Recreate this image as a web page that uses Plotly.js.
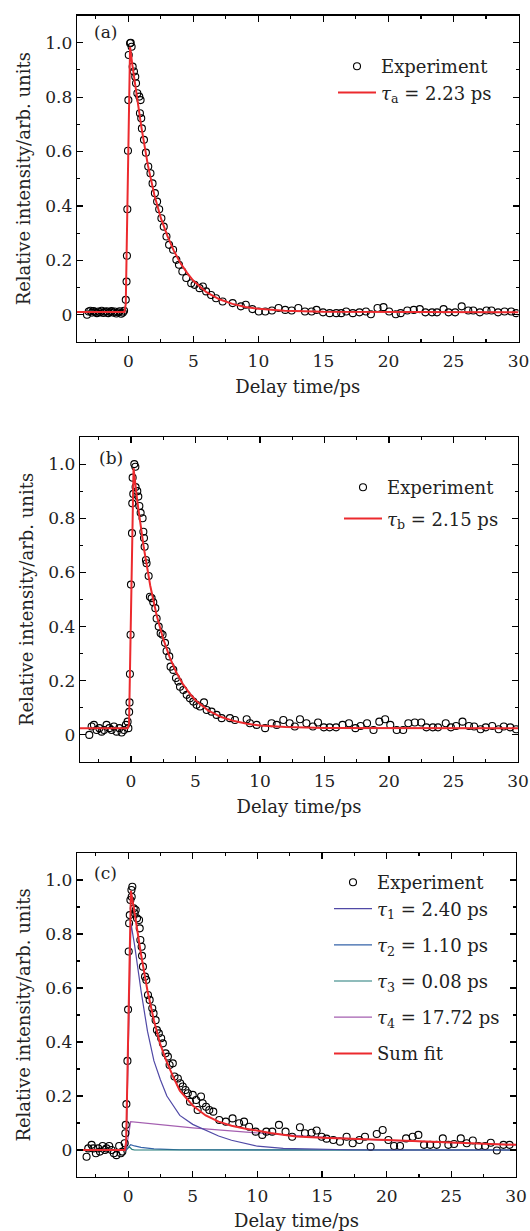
<!DOCTYPE html>
<html>
<head>
<meta charset="utf-8">
<script src="https://cdn.plot.ly/plotly-3.0.1.min.js"></script>
<style>html,body{margin:0;padding:0;background:#fff;}#chart{width:530px;height:1231px;}</style>
</head>
<body>
<div id="chart"></div>
<script>
// ---------- Tick labels ----------
const xTickVals = [0, 5, 10, 15, 20, 25, 30];
const xTickText = ['0', '5', '10', '15', '20', '25', '30'];
const yTickVals = [0, 0.2, 0.4, 0.6, 0.8, 1.0];
const yTickText = ['0', '0.2', '0.4', '0.6', '0.8', '1.0'];
const xRange = [-3.95, 30];
const yRange = [-0.1, 1.1];

// ---------- Panel (a) ----------
const expAx = [-3.18,-3.05,-2.92,-2.8,-2.67,-2.55,-2.42,-2.3,-2.17,-2.05,-1.92,-1.8,-1.67,-1.55,-1.42,-1.3,-1.17,-1.05,-0.92,-0.8,-0.67,-0.55,-0.42,-0.33,
  -0.2,-0.14,-0.11,-0.08,-0.03,0,0.03,0.13,0.18,0.25,0.33,0.43,0.53,0.59,0.69,0.84,0.89,0.94,0.99,1.04,
  1.2,1.35,1.53,1.7,1.86,2.04,2.21,2.37,2.54,2.72,2.93,3.13,3.44,3.69,3.89,4.15,4.45,4.83,5.09,5.47,5.73,5.98,6.36,6.74,7.25,8.02,8.65,9.03,9.54,10.03,
  10.53,11.04,11.55,12.06,12.56,13.07,13.58,14.09,14.47,14.97,15.48,15.99,16.37,16.75,17.26,17.77,18.27,18.65,19.16,19.62,20.05,20.56,20.94,21.45,21.95,22.41,22.84,23.35,23.73,24.24,24.62,25.13,25.63,26.14,26.52,27.03,27.54,27.92,28.43,28.93,29.44,29.82];
const expAy = [0.0,0.012,0.015,0.008,0.014,0.01,0.006,0.012,0.009,0.015,0.007,0.011,0.013,0.006,0.01,0.014,0.008,0.012,0.005,0.009,0.013,0.004,0.008,0.015,
  0.055,0.122,0.217,0.388,0.603,0.789,0.955,0.998,1.0,0.985,0.912,0.894,0.875,0.851,0.814,0.802,0.741,0.789,0.722,0.685,
  0.643,0.596,0.545,0.52,0.483,0.447,0.416,0.388,0.355,0.324,0.288,0.257,0.239,0.202,0.184,0.159,0.135,0.116,0.11,0.098,0.104,0.086,0.073,0.061,0.049,0.043,0.031,0.037,0.021,0.012,
  0.012,0.016,0.025,0.018,0.016,0.025,0.012,0.012,0.018,0.009,0.006,0.006,0.006,0.012,0.006,0.009,0.012,0.002,0.025,0.028,0.012,0.002,0.006,0.016,0.018,0.021,0.009,0.009,0.009,0.021,0.009,0.009,0.031,0.016,0.016,0.009,0.016,0.016,0.009,0.012,0.012,0.006];
const fitAx = [-3.95,-0.3,-0.2,0.13,0.3,0.5,0.75,1.0,1.5,2.0,2.5,3.0,3.5,4.0,4.5,5.0,6.0,7.0,8.0,9.0,10.0,12.0,15.0,20.0,30.0];
const fitAy = [0.01,0.01,0.04,0.985,0.92,0.85,0.77,0.69,0.55,0.44,0.355,0.29,0.235,0.19,0.155,0.125,0.083,0.057,0.04,0.029,0.022,0.015,0.011,0.01,0.009];

// ---------- Panel (b) ----------
const expBx = [-3.23,-3.05,-2.87,-2.66,-2.45,-2.27,-2.09,-1.89,-1.68,-1.5,-1.32,-1.11,-0.9,-0.72,-0.54,-0.39,-0.26,
  -0.2,-0.14,-0.11,-0.08,-0.03,0,0.08,0.1,0.13,0.26,0.34,0.18,0.36,0.49,0.57,0.65,0.75,0.9,0.96,1.01,1.06,1.16,1.21,1.37,1.47,1.6,1.73,1.89,1.99,2.15,2.3,2.45,2.64,2.76,2.97,3.07,3.28,3.49,3.67,3.8,4.06,4.32,4.57,4.83,5.09,5.35,5.66,5.87,6.25,6.64,7.03,7.67,8.06,8.97,
  9.22,9.74,10.4,10.9,11.3,11.81,12.3,12.7,13.1,13.6,14.1,14.5,14.95,15.4,15.9,16.4,16.9,17.4,17.8,18.3,18.8,19.25,19.7,20.1,20.6,21.1,21.5,22.0,22.5,22.9,23.4,23.8,24.4,24.8,25.2,25.7,26.2,26.6,27.1,27.5,28.0,28.5,28.9,29.4,29.85];
const expBy = [0.0,0.031,0.037,0.018,0.025,0.012,0.018,0.037,0.025,0.018,0.031,0.012,0.025,0.009,0.018,0.037,0.049,
  0.025,0.085,0.12,0.225,0.37,0.555,0.745,0.855,0.95,1.0,0.99,0.89,0.915,0.9,0.88,0.845,0.82,0.8,0.75,0.727,0.695,0.646,0.634,0.587,0.51,0.505,0.49,0.468,0.43,0.4,0.375,0.37,0.34,0.31,0.29,0.252,0.24,0.21,0.197,0.178,0.166,0.148,0.135,0.123,0.111,0.105,0.12,0.092,0.086,0.074,0.062,0.062,0.055,0.058,
  0.043,0.037,0.025,0.043,0.037,0.055,0.043,0.031,0.058,0.043,0.031,0.046,0.028,0.028,0.028,0.037,0.043,0.025,0.033,0.043,0.018,0.049,0.058,0.037,0.018,0.018,0.043,0.046,0.046,0.028,0.028,0.028,0.043,0.028,0.033,0.049,0.033,0.031,0.021,0.028,0.033,0.021,0.031,0.028,0.021];
const fitBx = [-3.95,-0.25,-0.15,0.2,0.5,1.0,1.5,2.0,2.5,3.0,3.5,4.0,4.5,5.0,6.0,7.0,8.0,9.0,10.0,12.0,15.0,20.0,30.0];
const fitBy = [0.025,0.025,0.04,0.985,0.86,0.69,0.55,0.44,0.355,0.287,0.232,0.19,0.156,0.128,0.09,0.066,0.051,0.041,0.035,0.029,0.026,0.025,0.025];

// ---------- Panel (c) ----------
const expCx = [-3.21,-3.08,-2.82,-2.69,-2.49,-2.31,-2.18,-1.97,-1.79,-1.67,-1.46,-1.28,-1.1,-0.9,-0.69,-0.56,-0.44,-0.26,
  -0.21,-0.18,-0.13,-0.05,0,0.05,0.08,0.13,0.18,0.26,0.33,0.28,0.44,0.51,0.59,0.69,0.85,0.9,0.95,1.05,1.08,1.15,1.31,1.41,1.54,1.67,1.87,1.97,2.13,2.23,2.38,2.56,2.69,2.9,3.08,3.21,3.46,3.59,3.85,4.03,4.23,4.44,4.62,4.79,5.0,5.26,5.38,5.64,5.77,6.03,6.28,6.59,7.05,7.56,8.08,8.59,8.97,9.36,9.87,10.38,10.69,11.15,11.67,12.18,12.69,
  13.29,13.68,14.19,14.58,14.97,15.35,15.87,16.39,16.9,17.37,17.89,18.32,18.76,19.23,19.69,20.13,20.57,21.03,21.5,22.01,22.45,22.89,23.36,23.87,24.34,24.77,25.21,25.73,26.19,26.66,27.1,27.61,28.05,28.52,29.03,29.5];
const expCy = [-0.025,0.006,0.019,0.006,-0.012,0.006,-0.006,0.015,0.0,0.006,0.015,0.0,-0.012,-0.019,0.015,-0.012,-0.006,0.025,
  0.062,0.093,0.17,0.33,0.52,0.735,0.84,0.87,0.926,0.963,0.975,0.938,0.895,0.877,0.889,0.858,0.852,0.821,0.778,0.753,0.719,0.679,0.642,0.63,0.574,0.556,0.525,0.506,0.481,0.444,0.432,0.414,0.395,0.358,0.346,0.315,0.321,0.272,0.265,0.247,0.235,0.222,0.21,0.179,0.204,0.185,0.148,0.198,0.173,0.16,0.148,0.142,0.111,0.105,0.117,0.099,0.105,0.086,0.068,0.056,0.068,0.068,0.093,0.068,0.049,
  0.084,0.062,0.064,0.072,0.049,0.042,0.037,0.031,0.049,0.025,0.037,0.049,0.012,0.059,0.074,0.037,0.015,0.015,0.043,0.049,0.056,0.019,0.019,0.019,0.043,0.019,0.022,0.043,0.025,0.035,0.015,0.015,0.027,-0.002,0.019,0.019];
const sumCx = [-3.95,-0.25,-0.15,0.22,0.5,1.0,1.5,2.0,2.5,3.0,3.5,4.0,5.0,6.0,7.0,8.0,9.0,10.0,11.0,13.0,15.0,20.0,25.0,30.0];
const sumCy = [0,0,0.03,0.96,0.88,0.725,0.59,0.48,0.39,0.325,0.27,0.22,0.165,0.128,0.105,0.09,0.08,0.072,0.063,0.05,0.045,0.037,0.027,0.019];
const tau1x = [-3.95,-0.15,0.22,0.5,1.0,1.5,2.0,2.5,3.0,4.0,5.0,6.0,7.0,8.0,10.0,12.0,14.0,17.0,20.0,30.0];
const tau1y = [0,0,0.84,0.76,0.59,0.44,0.33,0.26,0.2,0.128,0.095,0.072,0.052,0.036,0.014,0.006,0.003,0.001,0,0];
const tau2x = [-3.95,-0.15,0.2,0.5,1.0,1.5,2.0,3.0,4.0,30.0];
const tau2y = [0,0,0.02,0.015,0.01,0.006,0.004,0.002,0.001,0];
const tau3x = [-3.95,-0.15,0.1,0.3,0.5,30.0];
const tau3y = [0,0,0.012,0.002,0,0];
const tau4x = [-3.95,-0.15,0.2,5.0,10.0,15.0,20.0,25.0,30.0];
const tau4y = [0,0,0.105,0.082,0.063,0.048,0.036,0.027,0.019];

// ---------- Styles ----------
const FONT = 'DejaVu Serif, Liberation Serif, serif';
const RED = '#ec2a2e';
const W = 530, H = 1231;
const px = v => v / W;
const py = v => 1 - v / H;

function expTrace(x, y, xa, ya, leg, group) {
  return {x, y, xaxis: xa, yaxis: ya, type: 'scatter', mode: 'markers', name: 'Experiment',
    legend: leg, legendgroup: group || (leg + 'e'), legendrank: 1,
    marker: {symbol: 'circle-open', size: 7, color: '#000', line: {width: 1.1, color: '#000'}}};
}
function lineTrace(x, y, xa, ya, leg, name, color, width, rank, group) {
  return {x, y, xaxis: xa, yaxis: ya, type: 'scatter', mode: 'lines', name,
    legend: leg, legendgroup: group || (leg + name), legendrank: rank,
    line: {color, width}};
}

const data = [
  expTrace(expAx, expAy, 'x', 'y', 'legend'),
  lineTrace(fitAx, fitAy, 'x', 'y', 'legend', '<i>τ</i><sub>a</sub> = 2.23 ps', RED, 2, 2),
  expTrace(expBx, expBy, 'x2', 'y2', 'legend2'),
  lineTrace(fitBx, fitBy, 'x2', 'y2', 'legend2', '<i>τ</i><sub>b</sub> = 2.15 ps', RED, 2, 2),
  lineTrace(tau2x, tau2y, 'x3', 'y3', 'legend3', '<i>τ</i><sub>2</sub> = 1.10 ps', '#3563a8', 1.2, 3),
  lineTrace(tau3x, tau3y, 'x3', 'y3', 'legend3', '<i>τ</i><sub>3</sub> = 0.08 ps', '#217a78', 1.2, 4),
  lineTrace(tau4x, tau4y, 'x3', 'y3', 'legend3', '<i>τ</i><sub>4</sub> = 17.72 ps', '#a45fb0', 1.2, 5),
  expTrace(expCx, expCy, 'x3', 'y3', 'legend3', 'c-top'),
  lineTrace(tau1x, tau1y, 'x3', 'y3', 'legend3', '<i>τ</i><sub>1</sub> = 2.40 ps', '#5049a6', 1.2, 2, 'c-top'),
  lineTrace(sumCx, sumCy, 'x3', 'y3', 'legend3', 'Sum fit', RED, 2, 6)
];

function xAxis(d0, d1, anchor) {
  return {domain: [px(d0), px(d1)], anchor, range: xRange, tickmode: 'array', tickvals: xTickVals, ticktext: xTickText,
    showline: true, mirror: 'allticks', linecolor: '#000', linewidth: 1.3, ticks: 'inside', ticklen: 6, tickwidth: 1.1, tickcolor: '#000',
    minor: {tickmode: 'linear', tick0: 0, dtick: 2.5, ticks: 'inside', ticklen: 3, tickwidth: 1.1, tickcolor: '#000'},
    showgrid: false, zeroline: false, automargin: false, ticklabeloverflow: 'allow', ticklabelstandoff: 3,
    tickfont: {family: FONT, size: 17, color: '#222'},
    title: {text: 'Delay time/ps', font: {family: FONT, size: 18, color: '#222'}, standoff: 10}};
}
function yAxis(top, bottom, anchor) {
  return {domain: [py(bottom), py(top)], anchor, range: yRange, tickmode: 'array', tickvals: yTickVals, ticktext: yTickText,
    showline: true, mirror: 'allticks', linecolor: '#000', linewidth: 1.3, ticks: 'inside', ticklen: 6, tickwidth: 1.1, tickcolor: '#000',
    minor: {tickmode: 'linear', tick0: 0, dtick: 0.1, ticks: 'inside', ticklen: 3, tickwidth: 1.1, tickcolor: '#000'},
    showgrid: false, zeroline: false, automargin: false, ticklabeloverflow: 'allow',
    tickfont: {family: FONT, size: 17, color: '#222'},
    title: {text: 'Relative intensity/arb. units', font: {family: FONT, size: 18, color: '#222'}, standoff: 10}};
}
function legendAt(left, top, gap) {
  return {x: px(left), y: py(top), xanchor: 'left', yanchor: 'top', bgcolor: 'rgba(0,0,0,0)', borderwidth: 0,
    traceorder: 'grouped', tracegroupgap: gap, itemwidth: 38,
    font: {family: FONT, size: 18, color: '#222'}};
}
function label(text, x, y) {
  return {text, x: px(x), y: py(y), xref: 'paper', yref: 'paper', xanchor: 'center', yanchor: 'middle',
    showarrow: false, font: {family: FONT, size: 17, color: '#222'}};
}

const layout = {
  width: W, height: H, margin: {l: 0, r: 0, t: 0, b: 0},
  paper_bgcolor: '#fff', plot_bgcolor: '#fff', showlegend: true,
  xaxis: xAxis(77, 518.5, 'y'),
  yaxis: yAxis(15.5, 342, 'x'),
  xaxis2: xAxis(80, 518, 'y2'),
  yaxis2: yAxis(437, 762, 'x2'),
  xaxis3: xAxis(77, 516, 'y3'),
  yaxis3: yAxis(853, 1177, 'x3'),
  legend: legendAt(333, 48, 0),
  legend2: legendAt(339, 469, 5),
  legend3: legendAt(329, 864, 9.8),
  annotations: [label('(a)', 105, 31.7), label('(b)', 111, 458), label('(c)', 105.5, 873)]
};

Plotly.newPlot('chart', data, layout, {displayModeBar: false, staticPlot: true});
</script>
</body>
</html>
